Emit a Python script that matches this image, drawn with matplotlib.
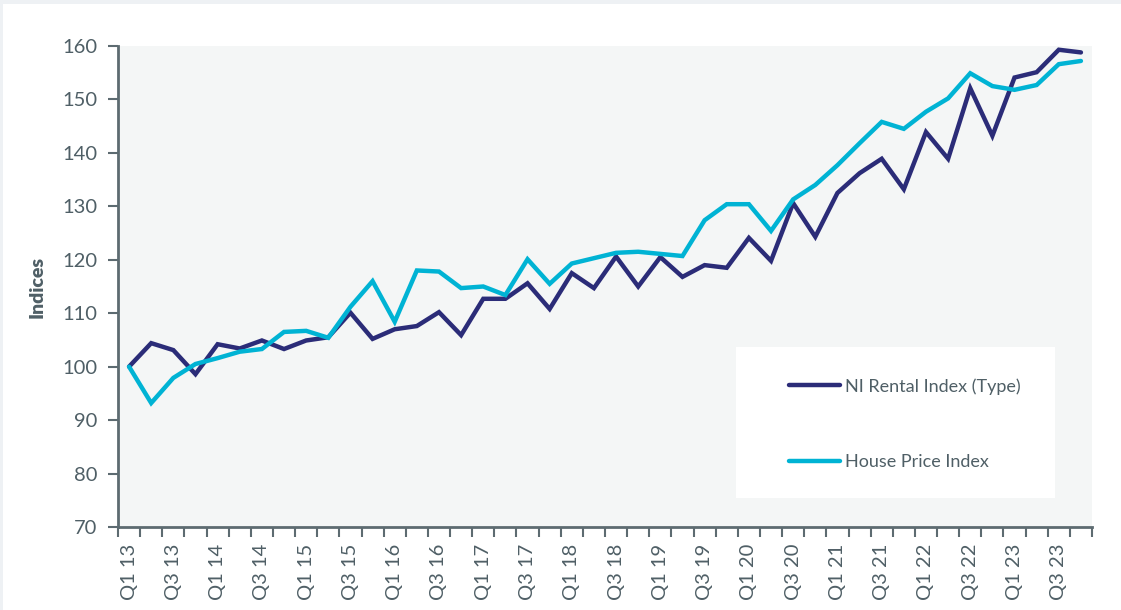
import matplotlib
matplotlib.use("Agg")
import matplotlib.pyplot as plt
from matplotlib.patches import Rectangle

quarters = [f"Q{q} {y}" for y in range(13, 24) for q in (1, 2, 3, 4)]

rental_index = [100.0, 104.4, 103.1, 98.6, 104.2, 103.4, 104.9, 103.3, 104.9, 105.5,
                110.1, 105.2, 107.0, 107.6, 110.2, 105.9, 112.7, 112.7, 115.6, 110.8,
                117.5, 114.7, 120.6, 115.0, 120.5, 116.8, 119.0, 118.5, 124.1, 119.8,
                130.6, 124.3, 132.5, 136.2, 138.9, 133.2, 143.9, 138.9, 152.1, 143.2,
                154.1, 155.1, 159.3, 158.8]

house_price_index = [100.0, 93.2, 97.9, 100.5, 101.6, 102.8, 103.3, 106.5, 106.7, 105.4,
                     111.2, 116.0, 108.4, 118.0, 117.8, 114.7, 115.0, 113.4, 120.1, 115.5,
                     119.3, 120.3, 121.3, 121.5, 121.1, 120.7, 127.4, 130.4, 130.4, 125.4,
                     131.3, 134.0, 137.7, 141.8, 145.8, 144.5, 147.7, 150.2, 154.9, 152.5,
                     151.8, 152.7, 156.6, 157.2]

series_labels = ["NI Rental Index (Type)", "House Price Index"]
y_ticks = [70, 80, 90, 100, 110, 120, 130, 140, 150, 160]

TEXT = "#4f5f66"
SPINE = "#5d6b71"
STRIP = "#eef1f4"
plt.rcParams['font.family'] = ['Lato', 'DejaVu Sans']

fig = plt.figure(figsize=(11.21, 6.10), dpi=100, facecolor="white")
fig.patches.append(Rectangle((0, 1 - 4 / 610), 1, 4 / 610, transform=fig.transFigure,
                             facecolor=STRIP, edgecolor="none", zorder=-5))
fig.patches.append(Rectangle((0, 0), 3 / 1121, 1, transform=fig.transFigure,
                             facecolor=STRIP, edgecolor="none", zorder=-5))

ax = fig.add_axes([118 / 1121, 1 - 527 / 610, 974 / 1121, 481 / 610])
ax.set_facecolor("#f4f6f6")

x = list(range(len(quarters)))
l1, = ax.plot(x, rental_index, color="#2b2c78", lw=3.2, solid_capstyle="round",
              solid_joinstyle="miter", label=series_labels[0], zorder=3)
l2, = ax.plot(x, house_price_index, color="#00b3d4", lw=3.2, solid_capstyle="round",
              solid_joinstyle="miter", label=series_labels[1], zorder=3)

ax.set_xlim(-0.5, len(quarters) - 0.5)
ax.set_ylim(70, 160)
ax.set_yticks(y_ticks)
ax.tick_params(axis="y", direction="out", length=7, width=1.5, color=SPINE,
               labelsize=14.5, labelcolor=TEXT, pad=8)

# category ticks at boundaries, labels every other quarter
ax.set_xticks([i - 0.5 for i in range(len(quarters) + 1)])
ax.set_xticklabels([])
ax.set_xticks(x[::2], minor=True)
ax.set_xticklabels(quarters[::2], minor=True, rotation=90)
ax.tick_params(axis="x", which="major", direction="out", length=7, width=1.5, color=SPINE)
ax.tick_params(axis="x", which="minor", length=0, labelsize=14.5, labelcolor=TEXT, pad=12)

for s in ("top", "right"):
    ax.spines[s].set_visible(False)
for s in ("left", "bottom"):
    ax.spines[s].set_color(SPINE)
    ax.spines[s].set_linewidth(2)

ax.set_ylabel("Indices", fontsize=14, fontweight="heavy", color=TEXT, labelpad=12)

ax.add_patch(Rectangle((0.6345, 0.0603), 0.3275, 0.3139, transform=ax.transAxes,
                       facecolor="white", edgecolor="none", zorder=2))
leg = ax.legend(handles=[l1, l2], loc="center left", bbox_to_anchor=(0.680, 0.214),
                frameon=False, fontsize=13, handlelength=2.8, handletextpad=0.3,
                labelspacing=3.3, borderpad=0)
for t in leg.get_texts():
    t.set_color(TEXT)
leg.set_zorder(4)

fig.savefig("out.png", dpi=100, facecolor=fig.get_facecolor())
